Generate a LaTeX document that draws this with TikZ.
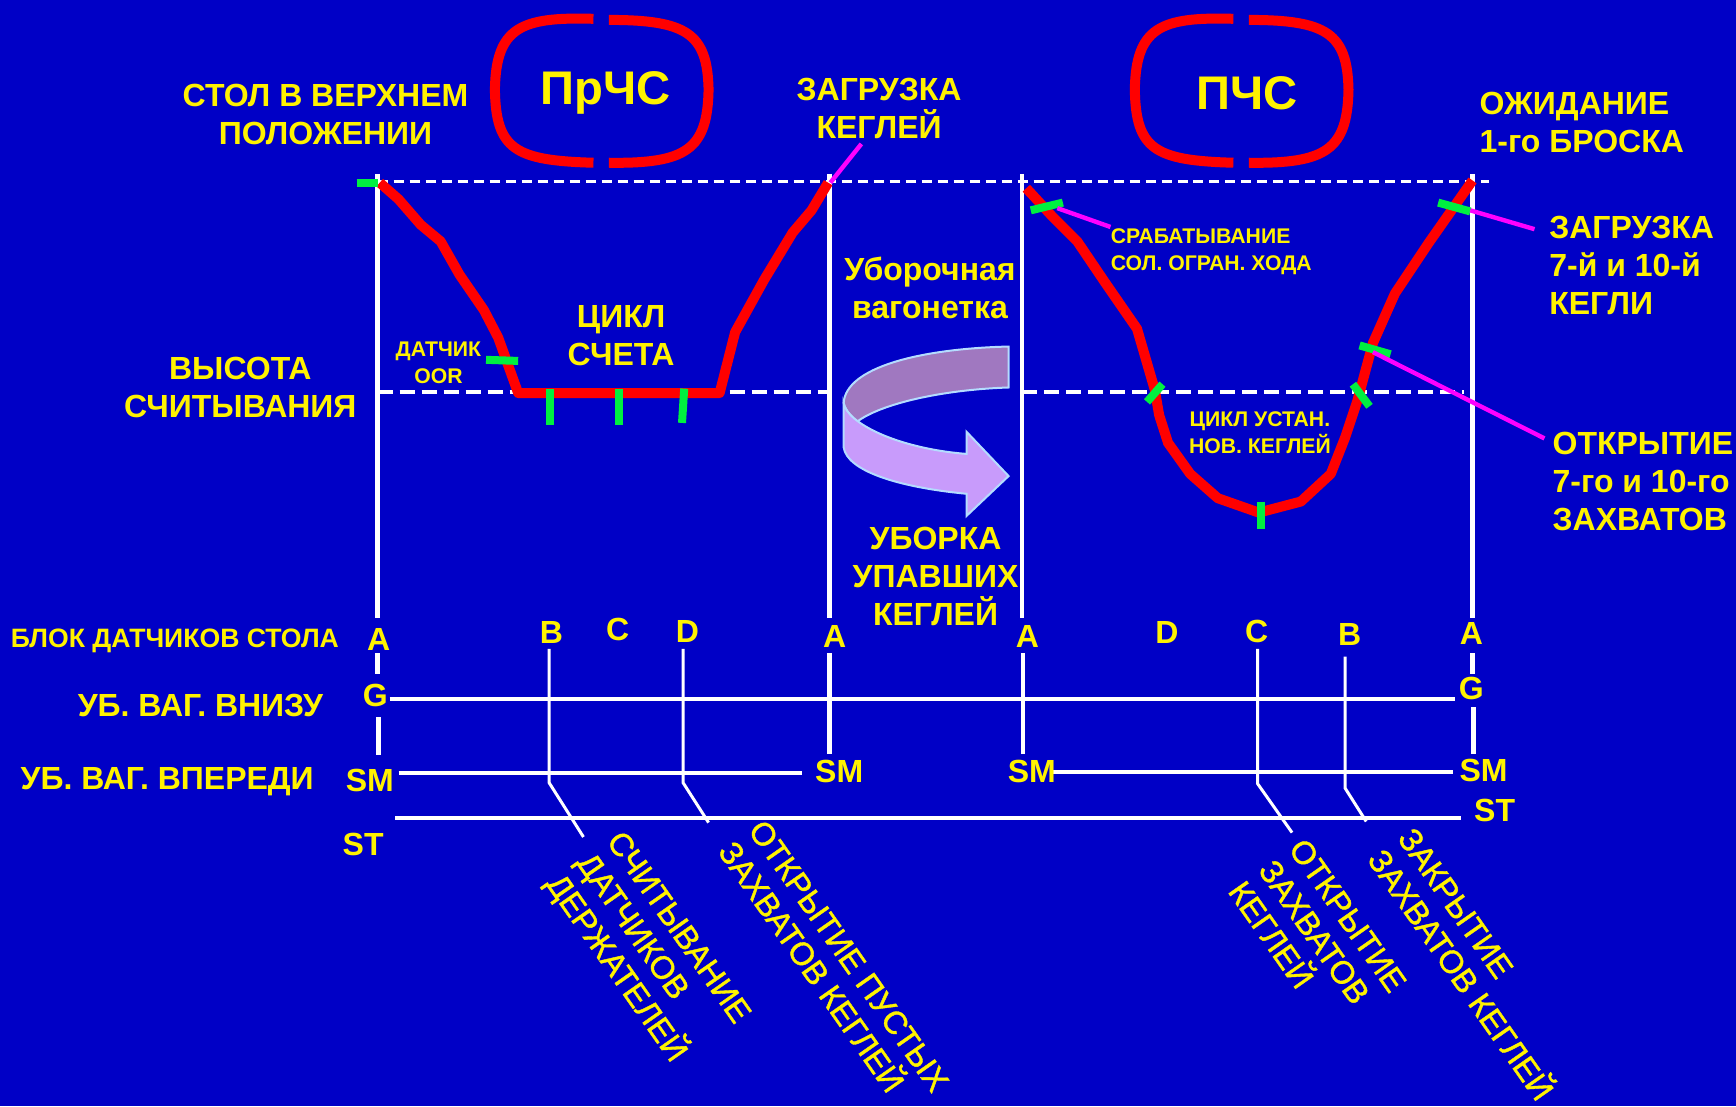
\documentclass[tikz,border=0pt]{standalone}
\usepackage{fontspec}
\setmainfont{Liberation Sans}
\newfontfamily\slantfont[FakeBold=1.2]{Liberation Sans}
\definecolor{bgblue}{HTML}{0000C6}
\definecolor{bandtop}{HTML}{A078C0}
\definecolor{bandlow}{HTML}{C89BFB}
\definecolor{bandline}{HTML}{B4DCFF}
\definecolor{tickgreen}{HTML}{00F040}
\definecolor{leaderpink}{HTML}{FF00FF}
\definecolor{curvered}{HTML}{FF0000}
\tikzset{
	lbl/.style={text=yellow, font=\bfseries\fontsize{16}{19}\selectfont, align=center, inner sep=0pt},
	small/.style={lbl, font=\bfseries\fontsize{10.6}{13.5}\selectfont},
	big/.style={lbl, font=\bfseries\fontsize{23.6}{28}\selectfont},
	slant/.style={lbl, align=left, rotate=-55, font=\slantfont\fontsize{16.1}{18.5}\selectfont},
	guide/.style={white, line width=2.4pt},
	thin guide/.style={white, line width=1.5pt},
	cross guide/.style={white, line width=2pt},
	curve/.style={curvered, line width=5pt, line join=round},
	frame/.style={curvered, line width=5pt},
	tick/.style={tickgreen, line width=4pt},
	leader/.style={leaderpink, line width=2.2pt}
}
\begin{document}
\begin{tikzpicture}[x=0.5536pt, y=-0.5536pt]
	\fill[bgblue] (0,0) rectangle (1568,999);
	\useasboundingbox (0,0) rectangle (1568,999);

	% frames
	\foreach \fx in {0,578}{
		\draw[frame] (536+\fx,17) .. controls (470+\fx,15) and (448+\fx,25) .. (447+\fx,81) .. controls (448+\fx,135) and (465+\fx,145) .. (536+\fx,147);
		\draw[frame] (550+\fx,18) .. controls (620+\fx,18) and (639+\fx,30) .. (640+\fx,81) .. controls (639+\fx,135) and (620+\fx,148) .. (550+\fx,147);
	}

	% levels
	\draw[white, line width=1.3pt, dash pattern=on 5pt off 3pt] (341,164) -- (1345,164);
	\draw[white, line width=2.4pt, dash pattern=on 7.5pt off 3.5pt] (341,354) -- (749,354);
	\draw[white, line width=2.4pt, dash pattern=on 7.5pt off 3.5pt] (923,354) -- (1322,354);

	% verticals
	\draw[guide] (341,157) -- (341,558);
	\draw[guide] (341,590) -- (341,609);
	\draw[guide] (342,648) -- (342,682);
	\draw[guide] (749,157) -- (749,558);
	\draw[guide] (749,590) -- (749,681);
	\draw[guide] (923,157) -- (923,558);
	\draw[guide] (924,590) -- (924,681);
	\draw[guide] (1330,157) -- (1330,558);
	\draw[guide] (1330,590) -- (1330,609);
	\draw[guide] (1331,639) -- (1331,681);

	% horizontals
	\draw[cross guide] (352,631.5) -- (1314,631.5);
	\draw[cross guide] (360,698.5) -- (724,698.5);
	\draw[cross guide] (950,697) -- (1312,697);
	\draw[cross guide] (357,739) -- (1320,739);

	% branches
	\draw[thin guide] (496,586) -- (496,707) -- (527,756);
	\draw[thin guide] (617,586) -- (617,707) -- (640,743);
	\draw[thin guide] (1136,586) -- (1136,708) -- (1167,752);
	\draw[thin guide] (1215,593) -- (1215,712) -- (1234,742);

	% travel curves
	\draw[curve] (343,165) -- (360,180) -- (380,203) -- (398,218) -- (415,248) -- (437,280) -- (450,305) -- (468,355) -- (650,355) -- (664,300) -- (690,253) -- (716,210) -- (733,190) -- (748,165);
	\draw[curve] (927,170) -- (950,195) -- (973,218) -- (998,255) -- (1027,297) -- (1043,352) -- (1047,375) -- (1055,400) -- (1075,428) -- (1100,450) -- (1137,463) -- (1175,453) -- (1202,428) -- (1215,395) -- (1226,362) -- (1240,310) -- (1260,265) -- (1290,220) -- (1330,163);

	% ticks
	\draw[tick] (322,165) -- (341,165);
	\draw[tick] (439,325) -- (468,326);
	\draw[tick] (497,351) -- (497,384);
	\draw[tick] (559,351) -- (559,384);
	\draw[tick] (618,351) -- (616,382);
	\draw[tick] (931,190) -- (960,183);
	\draw[tick] (1036,363) -- (1050,347);
	\draw[tick] (1222,347) -- (1237,367);
	\draw[tick] (1139,453) -- (1139,478);
	\draw[tick] (1299,183) -- (1328,191);
	\draw[tick] (1228,312) -- (1256,320);

	% leaders
	\draw[leader] (750,165) -- (778,130);
	\draw[leader] (955,188) -- (1003,205);
	\draw[leader] (1328,190) -- (1386,207);
	\draw[leader] (1240,318) -- (1395,396);

	% arrow
	\draw[bandline, fill=bandtop, line width=1pt] (911,313) .. controls (830,315) and (764,332) .. (762,364) .. controls (763,369) and (768,376) .. (774,381) .. controls (795,365) and (850,352) .. (911,350) -- cycle;
	\draw[bandline, fill=bandlow, line width=1pt] (762,364) .. controls (765,382) and (810,405) .. (873,410) -- (873,390) -- (911,430) -- (873,466) -- (873,446) .. controls (810,440) and (765,425) .. (762,404) -- cycle;

	% labels
	\node[big] (prchs) at (547,84) {ПрЧС};
	\node[big] (pchs) at (1126,84) {ПЧС};
	\node[lbl] (tabletop) at (294,103) {СТОЛ В ВЕРХНЕМ\\ПОЛОЖЕНИИ};
	\node[lbl] (pinload) at (794,98) {ЗАГРУЗКА\\КЕГЛЕЙ};
	\node[lbl, align=left, anchor=west] (firstball) at (1336,111) {ОЖИДАНИЕ\\1-го БРОСКА};
	\node[lbl] (readheight) at (217,350) {ВЫСОТА\\СЧИТЫВАНИЯ};
	\node[lbl] (countcycle) at (561,303) {ЦИКЛ\\СЧЕТА};
	\node[small] (oorsensor) at (396,328) {ДАТЧИК\\OOR};
	\node[small, align=left, anchor=west] (solstop) at (1003,227) {СРАБАТЫВАНИЕ\\СОЛ. ОГРАН. ХОДА};
	\node[lbl, align=left, anchor=west] (load710) at (1399,240) {ЗАГРУЗКА\\7-й и 10-й\\КЕГЛИ};
	\node[lbl, align=left, anchor=west] (open710) at (1402,435) {ОТКРЫТИЕ\\7-го и 10-го\\ЗАХВАТОВ};
	\node[small] (setcycle) at (1138,391) {ЦИКЛ УСТАН.\\НОВ. КЕГЛЕЙ};
	\node[lbl] (sweep) at (840,260) {Уборочная\\вагонетка};
	\node[lbl] (cleanup) at (845,521) {УБОРКА\\УПАВШИХ\\КЕГЛЕЙ};
	\node[lbl, font=\bfseries\fontsize{13.3}{16}\selectfont] (tablesensors) at (158,579) {БЛОК ДАТЧИКОВ СТОЛА};
	\node[lbl] (sweepdown) at (181,637) {УБ. ВАГ. ВНИЗУ};
	\node[lbl] (sweepfront) at (151,706) {УБ. ВАГ. ВПЕРЕДИ};

	% sensor letters
	\node[lbl] (a1) at (342,578) {A};
	\node[lbl] (b1) at (498,571) {B};
	\node[lbl] (c1) at (558,569) {C};
	\node[lbl] (d1) at (621,570) {D};
	\node[lbl] (a2) at (754,575) {A};
	\node[lbl] (a3) at (928,575) {A};
	\node[lbl] (d2) at (1054,571) {D};
	\node[lbl] (c2) at (1135,570) {C};
	\node[lbl] (b2) at (1219,573) {B};
	\node[lbl] (a4) at (1329,572) {A};
	\node[lbl] (g1) at (339,628) {G};
	\node[lbl] (g2) at (1329,622) {G};
	\node[lbl] (sm1) at (334,705) {SM};
	\node[lbl] (sm2) at (758,697) {SM};
	\node[lbl] (sm3) at (932,697) {SM};
	\node[lbl] (sm4) at (1340,696) {SM};
	\node[lbl] (st1) at (328,763) {ST};
	\node[lbl] (st2) at (1350,732) {ST};

	% slanted labels
	\node[slant] (holders) at (584,858) {СЧИТЫВАНИЕ\\ДАТЧИКОВ\\ДЕРЖАТЕЛЕЙ};
	\node[slant] (emptyopen) at (753,873) {ОТКРЫТИЕ ПУСТЫХ\\ЗАХВАТОВ КЕГЛЕЙ};
	\node[slant] (gripopen) at (1190,846) {ОТКРЫТИЕ\\ЗАХВАТОВ\\КЕГЛЕЙ};
	\node[slant] (gripclose) at (1333,871) {ЗАКРЫТИЕ\\ЗАХВАТОВ КЕГЛЕЙ};
\end{tikzpicture}
\end{document}
